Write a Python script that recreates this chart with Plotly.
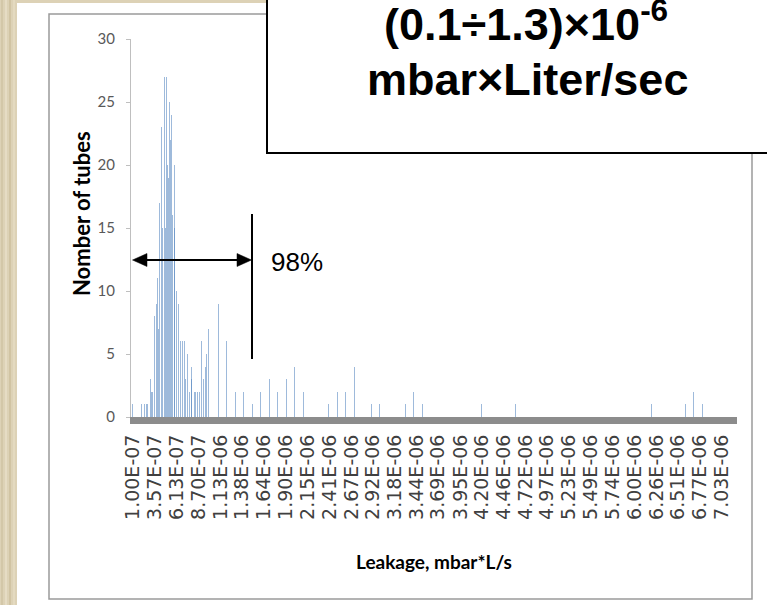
import plotly.graph_objects as go

# ---------------- data (leakage in units of 1e-6 mbar*L/s) ----------------
leak = [0.095, 0.20, 0.23, 0.25, 0.27, 0.30, 0.32, 0.35, 0.37, 0.385, 0.40, 0.41,
        0.43, 0.445, 0.465, 0.48, 0.49, 0.505, 0.515, 0.525, 0.535, 0.55, 0.565,
        0.58, 0.59, 0.605, 0.63, 0.655, 0.68, 0.705, 0.715, 0.735, 0.76, 0.78,
        0.79, 0.815, 0.83, 0.85, 0.875, 0.90, 0.925, 0.95, 0.96, 0.99,
        1.1, 1.2, 1.3, 1.4, 1.5, 1.6, 1.7, 1.8, 1.9, 2.0, 2.1,
        2.4, 2.5, 2.6, 2.7, 2.9, 3.0, 3.3, 3.4, 3.5, 4.2, 4.6, 6.2, 6.6, 6.7, 6.8]
tubes = [1, 1, 1, 1, 1, 3, 2, 8, 9, 11, 7, 17,
         23, 15, 27, 15, 27, 20, 19, 25, 22, 24, 16,
         20, 15, 10, 9, 6, 6, 6, 3, 5, 2, 3,
         4, 2, 2, 2, 2, 6, 3, 4, 5, 7,
         9, 6, 2, 2, 1, 2, 3, 2, 3, 4, 2,
         1, 2, 2, 4, 1, 1, 1, 2, 1, 1, 1, 1, 1, 2, 1]
tick_labels = ["1.00E-07", "3.57E-07", "6.13E-07", "8.70E-07", "1.13E-06", "1.38E-06",
               "1.64E-06", "1.90E-06", "2.15E-06", "2.41E-06", "2.67E-06", "2.92E-06",
               "3.18E-06", "3.44E-06", "3.69E-06", "3.95E-06", "4.20E-06", "4.46E-06",
               "4.72E-06", "4.97E-06", "5.23E-06", "5.49E-06", "5.74E-06", "6.00E-06",
               "6.26E-06", "6.51E-06", "6.77E-06", "7.03E-06"]
y_ticks = [0, 5, 10, 15, 20, 25, 30]
tick_vals = [float(s) * 1e6 for s in tick_labels]

# ---------------- geometry ----------------
W, H = 767, 605
L, R, T, B = 131, 30, 39, 188
PW, PH = W - L - R, H - T - B


def px(x):
    return (x - L) / PW


def py(y):
    return 1 - (y - T) / PH


fig = go.Figure()
fig.add_trace(go.Bar(x=leak, y=tubes, width=0.012,
                     marker=dict(color="rgba(79,129,189,0.55)", line=dict(width=0)),
                     hoverinfo="x+y"))

shapes = [
    # white slide panel
    dict(type="rect", xref="paper", yref="paper", x0=px(17), x1=px(770), y0=py(3), y1=py(610),
         fillcolor="white", line=dict(width=0), layer="below"),
    # chart frame
    dict(type="rect", xref="paper", yref="paper", x0=px(49), x1=px(752), y0=py(14), y1=py(599),
         fillcolor="rgba(0,0,0,0)", line=dict(color="#9a9a9a", width=1.5), layer="below"),
    # text box
    dict(type="rect", xref="paper", yref="paper", x0=px(267), x1=px(775), y0=py(-10), y1=py(153),
         fillcolor="white", line=dict(color="black", width=2), layer="above"),
    # double arrow
    dict(type="line", xref="paper", yref="paper", x0=px(140), x1=px(245), y0=py(260), y1=py(260),
         line=dict(color="black", width=2), layer="above"),
    dict(type="path", xref="paper", yref="paper",
         path=f"M {px(132.5)} {py(260)} L {px(147)} {py(253.5)} L {px(147)} {py(266.5)} Z",
         fillcolor="black", line=dict(color="black", width=0.5), layer="above"),
    dict(type="path", xref="paper", yref="paper",
         path=f"M {px(251.5)} {py(260)} L {px(237)} {py(253.5)} L {px(237)} {py(266.5)} Z",
         fillcolor="black", line=dict(color="black", width=0.5), layer="above"),
    # vertical limit line
    dict(type="line", xref="paper", yref="paper", x0=px(252), x1=px(252), y0=py(214), y1=py(359),
         line=dict(color="black", width=2), layer="above"),
]
# paper texture stripes on the left
for sx, c in [(2, "#cfc3a3"), (6, "#e8dfc8"), (10, "#cdbf9d"), (14, "#e6dcc3")]:
    shapes.append(dict(type="line", xref="paper", yref="paper", x0=px(sx), x1=px(sx),
                       y0=py(0), y1=py(605), line=dict(color=c, width=1.5), layer="below"))

annotations = [
    dict(text="<b>(0.1÷1.3)×10<sup>-6</sup></b>", xref="paper", yref="paper",
         x=px(526), y=py(21), xanchor="center", yanchor="middle", showarrow=False,
         font=dict(family="Arial, Liberation Sans", size=45, color="black")),
    dict(text="<b>mbar×Liter/sec</b>", xref="paper", yref="paper",
         x=px(527), y=py(79), xanchor="center", yanchor="middle", showarrow=False,
         font=dict(family="Arial, Liberation Sans", size=45, color="black")),
    dict(text="98%", xref="paper", yref="paper", x=px(269), y=py(262),
         xanchor="left", yanchor="middle", showarrow=False,
         font=dict(family="Arial, Liberation Sans", size=26, color="black")),
    dict(text="<b>Nomber of tubes</b>", xref="paper", yref="paper", x=px(81), y=py(214),
         xanchor="center", yanchor="middle", textangle=-90, showarrow=False,
         font=dict(family="Lato", size=22, color="black")),
    dict(text="<b>Leakage, mbar*L/s</b>", xref="paper", yref="paper", x=px(434), y=py(561),
         xanchor="center", yanchor="middle", showarrow=False,
         font=dict(family="Lato", size=19, color="black")),
]

x0 = 0.1 - 2.3 / 84.95
fig.update_layout(
    width=W, height=H,
    margin=dict(l=L, r=R, t=T, b=B, pad=0),
    paper_bgcolor="#ddd2b6",
    plot_bgcolor="rgba(0,0,0,0)",
    showlegend=False,
    bargap=0,
    shapes=shapes,
    annotations=annotations,
    xaxis=dict(range=[x0, x0 + PW / 84.95], tickmode="array", tickvals=tick_vals,
               ticktext=tick_labels, tickangle=-90, showgrid=False, zeroline=False,
               showline=True, linecolor="#8c8c8c", linewidth=7, ticks="", ticklabelstandoff=3,
               tickfont=dict(family="DejaVu Sans", size=19, color="#404040")),
    yaxis=dict(range=[0, 30], tickmode="array", tickvals=y_ticks, showgrid=False,
               zeroline=False, showline=True, linecolor="#bfbfbf", linewidth=1,
               ticks="outside", ticklen=4, tickcolor="#bfbfbf", ticklabelstandoff=8,
               tickfont=dict(family="Lato", size=15, color="#595959")),
)

fig.write_html("out.html")
